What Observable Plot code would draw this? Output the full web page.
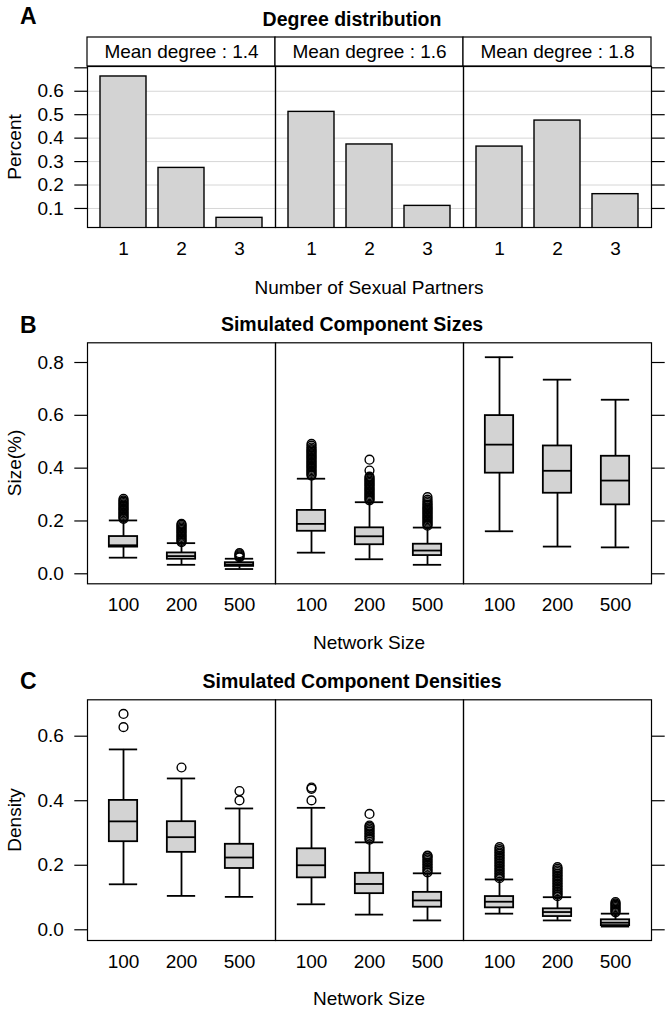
<!DOCTYPE html>
<html>
<head>
<meta charset="utf-8">
<script src="https://cdn.jsdelivr.net/npm/d3@7"></script>
<script src="https://cdn.jsdelivr.net/npm/@observablehq/plot@0.6"></script>
<style>
  body { margin: 0; background: #fff; font-family: Arial, "Liberation Sans", sans-serif; }
  #root { position: relative; width: 670px; height: 1011px; overflow: hidden; background: #fff; }
  .chart { position: absolute; left: 0; }
  .t { position: absolute; transform: translate(-50%, -50%); line-height: 1; white-space: nowrap; color: #000; }
  .v { position: absolute; transform: translate(-50%, -50%) rotate(-90deg); line-height: 1; white-space: nowrap; color: #000; }
  .letter { position: absolute; transform: translate(0, -50%); line-height: 1; font-weight: bold; font-size: 23px; }
</style>
</head>
<body>
<div id="root"></div>
<script>
// ---------- data ----------
const panels = ["Mean degree : 1.4", "Mean degree : 1.6", "Mean degree : 1.8"];
const partnerCounts = [1, 2, 3];
const degreeShare = [
  [0.663, 0.273, 0.060],
  [0.512, 0.373, 0.111],
  [0.364, 0.475, 0.161]
];
const degreeTicks = [0.1, 0.2, 0.3, 0.4, 0.5, 0.6, 0.7];
const degreeGrid = [0.1, 0.2, 0.3, 0.4, 0.5, 0.6];

const networkSizes = ["100", "200", "500"];
const sizeTicks = [0, 0.2, 0.4, 0.6, 0.8];
const densityTicks = [0, 0.2, 0.4, 0.6];

// Simulated component sizes (rows: panel, cols: network size)
const sizeLow  = [[0.061, 0.034, 0.018], [0.080, 0.055, 0.034], [0.161, 0.103, 0.100]];
const sizeQ1   = [[0.101, 0.055, 0.028], [0.161, 0.110, 0.069], [0.381, 0.305, 0.261]];
const sizeMed  = [[0.108, 0.067, 0.035], [0.189, 0.142, 0.088], [0.489, 0.390, 0.353]];
const sizeQ3   = [[0.141, 0.079, 0.042], [0.240, 0.174, 0.112], [0.599, 0.484, 0.445]];
const sizeHigh = [[0.202, 0.116, 0.057], [0.360, 0.271, 0.175], [0.820, 0.735, 0.659]];
const sizeOutliers = [
  [
    [0.208, 0.213, 0.218, 0.223, 0.228, 0.233, 0.238, 0.243, 0.248, 0.253, 0.258, 0.263, 0.268, 0.273, 0.278, 0.284],
    [0.120, 0.125, 0.130, 0.135, 0.140, 0.145, 0.150, 0.155, 0.160, 0.165, 0.170, 0.175, 0.180, 0.185, 0.189],
    [0.062, 0.066, 0.070, 0.074, 0.078]
  ],
  [
    [0.372, 0.377, 0.382, 0.387, 0.392, 0.397, 0.402, 0.407, 0.412, 0.417, 0.422, 0.427, 0.432, 0.437, 0.442, 0.447, 0.452, 0.457, 0.462, 0.467, 0.472, 0.478, 0.485, 0.492],
    [0.278, 0.283, 0.288, 0.293, 0.298, 0.303, 0.308, 0.313, 0.318, 0.323, 0.328, 0.333, 0.338, 0.343, 0.348, 0.353, 0.358, 0.363, 0.368, 0.391, 0.432],
    [0.182, 0.187, 0.192, 0.197, 0.202, 0.207, 0.212, 0.217, 0.222, 0.227, 0.232, 0.237, 0.242, 0.247, 0.252, 0.257, 0.262, 0.268, 0.274, 0.281, 0.290]
  ],
  [[], [], []]
];

// Simulated component densities
const densLow  = [[0.141, 0.105, 0.102], [0.079, 0.047, 0.029], [0.050, 0.029, 0.010]];
const densQ1   = [[0.273, 0.240, 0.190], [0.161, 0.112, 0.070], [0.068, 0.041, 0.013]];
const densMed  = [[0.336, 0.287, 0.224], [0.200, 0.142, 0.091], [0.087, 0.055, 0.022]];
const densQ3   = [[0.401, 0.335, 0.265], [0.251, 0.175, 0.116], [0.103, 0.065, 0.031]];
const densHigh = [[0.559, 0.469, 0.376], [0.378, 0.271, 0.175], [0.156, 0.101, 0.050]];
const densOutliers = [
  [[0.628, 0.669], [0.503], [0.401, 0.430]],
  [
    [0.401, 0.437, 0.441],
    [0.279, 0.284, 0.289, 0.294, 0.299, 0.304, 0.309, 0.314, 0.319, 0.323, 0.359],
    [0.178, 0.183, 0.188, 0.193, 0.198, 0.203, 0.208, 0.213, 0.218, 0.223, 0.228, 0.230]
  ],
  [
    [0.160, 0.165, 0.170, 0.175, 0.180, 0.185, 0.190, 0.195, 0.200, 0.205, 0.210, 0.215, 0.220, 0.225, 0.230, 0.235, 0.240, 0.245, 0.250, 0.256],
    [0.104, 0.109, 0.114, 0.119, 0.124, 0.129, 0.134, 0.139, 0.144, 0.149, 0.154, 0.159, 0.164, 0.169, 0.174, 0.179, 0.184, 0.189, 0.194],
    [0.054, 0.058, 0.062, 0.066, 0.070, 0.074, 0.078, 0.082, 0.086]
  ]
];

// ---------- layout ----------
const W = 670, ML = 86, MR = 18;
const facetW = (W - ML - MR) / 3;
const step = facetW / 3.2;
const boxInset = step * 0.15;
const FONT = "Arial, 'Liberation Sans', sans-serif";
const FS = 19;
const GRAY = "#d3d3d3";
const root = document.getElementById("root");

function place(svg, top) {
  svg.classList.add("chart");
  svg.style.top = top + "px";
  root.appendChild(svg);
}
function label(text, x, y, cls, extra) {
  const d = document.createElement("div");
  d.className = cls;
  d.textContent = text;
  d.style.left = x + "px";
  d.style.top = y + "px";
  Object.assign(d.style, extra || {});
  root.appendChild(d);
}

const baseStyle = {fontFamily: FONT, fontSize: FS + "px", color: "black", background: "transparent", overflow: "visible"};

function yAxes(ticks, fmt) {
  return [
    Plot.axisY({anchor: "left", ticks, tickSize: 12.7, tickPadding: 11, fontSize: FS, label: null, tickFormat: fmt, strokeWidth: 1.2}),
    Plot.axisY({anchor: "right", ticks, tickSize: 12.7, fontSize: FS, label: null, tickFormat: () => "", strokeWidth: 1.2})
  ];
}

// ---------- Panel A ----------
const degreeRows = [];
panels.forEach((p, i) => partnerCounts.forEach((k, j) => degreeRows.push({panel: p, k, v: degreeShare[i][j]})));

const stripSvg = Plot.plot({
  width: W, height: 31, marginLeft: ML, marginRight: MR, marginTop: 1, marginBottom: 1,
  style: baseStyle,
  x: {type: "band", domain: panels, padding: 0, axis: null},
  y: {axis: null},
  marks: [
    Plot.cell(panels, {x: d => d, fill: "white", stroke: "black", strokeWidth: 1.2}),
    Plot.text(panels, {x: d => d, text: d => d, fontSize: FS, fill: "black"})
  ]
});
place(stripSvg, 36);

const fmt1 = d3.format(".1f");
const chartA = Plot.plot({
  width: W, height: 260, marginLeft: ML, marginRight: MR, marginTop: 66, marginBottom: 33,
  style: baseStyle,
  fx: {domain: panels, padding: 0, axis: null, label: null},
  x: {type: "band", domain: partnerCounts, padding: 0.2},
  y: {domain: [0.0188, 0.7056]},
  marks: [
    Plot.ruleY(degreeGrid, {stroke: "#d6d6d6", strokeWidth: 1}),
    Plot.barY(degreeRows, {fx: "panel", x: "k", y: "v", fill: GRAY, stroke: "black", strokeWidth: 1.4, clip: true}),
    Plot.frame({stroke: "black", strokeWidth: 1.2}),
    Plot.axisX({tickSize: 0, tickPadding: 14, fontSize: FS, label: null}),
    ...yAxes(degreeTicks, d => (d >= 0.65 ? "" : fmt1(d)))
  ]
});
place(chartA, 0);

// ---------- box plot helper ----------
function boxRows(lo, q1, md, q3, hi) {
  const rows = [];
  panels.forEach((p, i) => networkSizes.forEach((s, j) =>
    rows.push({panel: p, size: s, lo: lo[i][j], q1: q1[i][j], md: md[i][j], q3: q3[i][j], hi: hi[i][j]})));
  return rows;
}
function outlierRows(out) {
  const rows = [];
  panels.forEach((p, i) => networkSizes.forEach((s, j) =>
    out[i][j].forEach(v => rows.push({panel: p, size: s, v}))));
  return rows;
}
function boxChart(rows, outs, yDomain, ticks, height, marginTop, marginBottom) {
  const sw = 1.8;
  const common = {fx: "panel", x: "size", stroke: "black", strokeWidth: sw};
  return Plot.plot({
    width: W, height, marginLeft: ML, marginRight: MR, marginTop, marginBottom,
    style: baseStyle,
    fx: {domain: panels, padding: 0, axis: null, label: null},
    x: {type: "band", domain: networkSizes, padding: 0.2},
    y: {domain: yDomain},
    marks: [
      Plot.ruleX(rows, {...common, y1: "lo", y2: "hi"}),
      Plot.tickY(rows, {...common, y: "lo", insetLeft: boxInset, insetRight: boxInset}),
      Plot.tickY(rows, {...common, y: "hi", insetLeft: boxInset, insetRight: boxInset}),
      Plot.barY(rows, {...common, y1: "q1", y2: "q3", fill: GRAY, insetLeft: boxInset, insetRight: boxInset}),
      Plot.tickY(rows, {...common, y: "md", insetLeft: boxInset, insetRight: boxInset}),
      Plot.dot(outs, {fx: "panel", x: "size", y: "v", r: 4.4, stroke: "black", fill: "none", strokeWidth: 1.4}),
      Plot.frame({stroke: "black", strokeWidth: 1.2}),
      Plot.axisX({tickSize: 0, tickPadding: 14, fontSize: FS, label: null}),
      ...yAxes(ticks, fmt1)
    ]
  });
}

// ---------- Panel B ----------
const chartB = boxChart(
  boxRows(sizeLow, sizeQ1, sizeMed, sizeQ3, sizeHigh),
  outlierRows(sizeOutliers),
  [-0.0379, 0.8746], sizeTicks, 320, 42.3, 36.7
);
place(chartB, 300);

// ---------- Panel C ----------
const chartC = boxChart(
  boxRows(densLow, densQ1, densMed, densQ3, densHigh),
  outlierRows(densOutliers),
  [-0.0332, 0.7128], densityTicks, 320, 39.3, 40
);
place(chartC, 660);

// ---------- text ----------
label("A", 20, 16, "letter");
label("Degree distribution", 352, 19.5, "t", {fontWeight: "bold", fontSize: "19.5px"});
label("Percent", 14, 146.5, "v", {fontSize: FS + "px"});
label("Number of Sexual Partners", 369, 286.5, "t", {fontSize: FS + "px"});

label("B", 20, 325, "letter");
label("Simulated Component Sizes", 352, 324.5, "t", {fontWeight: "bold", fontSize: "19.5px"});
label("Size(%)", 14, 462.8, "v", {fontSize: FS + "px"});
label("Network Size", 369, 641.5, "t", {fontSize: FS + "px"});

label("C", 20, 681, "letter");
label("Simulated Component Densities", 352, 681.7, "t", {fontWeight: "bold", fontSize: "19.5px"});
label("Density", 14, 819.6, "v", {fontSize: FS + "px"});
label("Network Size", 369, 998, "t", {fontSize: FS + "px"});
</script>
</body>
</html>
